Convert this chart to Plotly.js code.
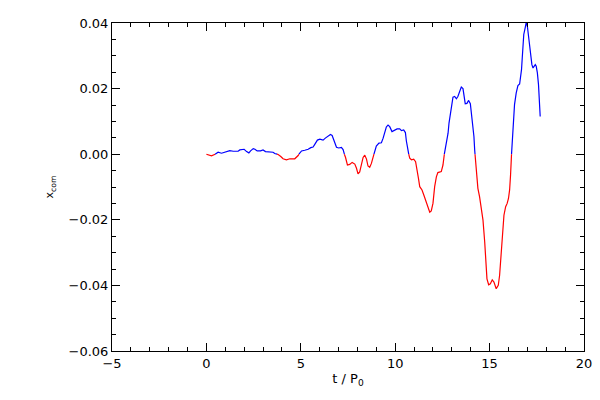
<!DOCTYPE html>
<html>
<head>
<meta charset="utf-8">
<script src="https://cdn.plot.ly/plotly-3.0.1.min.js"></script>
<style>html,body{margin:0;padding:0;background:#fff;}#chart{width:600px;height:400px;}</style>
</head>
<body>
<div id="chart"></div>
<script>
const tVals = [0, 0.27, 0.5, 0.62, 0.8, 0.98, 1.24, 1.42, 1.68, 1.77, 2.0, 2.13, 2.25, 2.34, 2.48, 2.57, 2.69, 2.87, 3.0, 3.13, 3.36, 3.53, 3.62, 3.8, 3.94, 4.06, 4.24, 4.42, 4.68, 4.77, 4.86, 4.95, 5.04, 5.21, 5.39, 5.53, 5.65, 5.74, 5.88, 6.01, 6.18, 6.3, 6.45, 6.57, 6.66, 6.73, 6.8, 6.89, 7.01, 7.15, 7.24, 7.29, 7.37, 7.47, 7.59, 7.72, 7.86, 7.95, 8.03, 8.12, 8.21, 8.3, 8.39, 8.48, 8.56, 8.65, 8.74, 8.83, 8.9, 9.0, 9.14, 9.27, 9.36, 9.44, 9.53, 9.62, 9.71, 9.83, 9.97, 10.1, 10.24, 10.33, 10.45, 10.54, 10.59, 10.68, 10.77, 10.86, 10.98, 11.08, 11.15, 11.23, 11.3, 11.42, 11.52, 11.65, 11.73, 11.83, 11.91, 12.0, 12.09, 12.18, 12.26, 12.44, 12.53, 12.58, 12.66, 12.74, 12.8, 12.85, 12.92, 12.98, 13.06, 13.15, 13.24, 13.32, 13.41, 13.5, 13.59, 13.64, 13.71, 13.8, 13.89, 13.98, 14.03, 14.12, 14.17, 14.21, 14.26, 14.3, 14.38, 14.47, 14.56, 14.65, 14.74, 14.79, 14.86, 14.95, 15.04, 15.14, 15.23, 15.35, 15.46, 15.53, 15.58, 15.63, 15.7, 15.76, 15.85, 15.93, 16.0, 16.06, 16.11, 16.16, 16.2, 16.27, 16.32, 16.41, 16.5, 16.59, 16.64, 16.69, 16.73, 16.76, 16.81, 16.89, 16.94, 17.0, 17.05, 17.12, 17.17, 17.24, 17.3, 17.35, 17.42, 17.47, 17.53, 17.59, 17.65, 17.68];

const xcomVals = [0.0, -0.0005, 0.0001, 0.0006, 0.0003, 0.0006, 0.0011, 0.0009, 0.0009, 0.0013, 0.0015, 0.0008, 0.0004, 0.001, 0.0017, 0.0015, 0.001, 0.001, 0.0013, 0.0008, 0.0006, 0.0006, 0.0002, -0.0001, -0.0007, -0.0014, -0.0017, -0.0014, -0.0014, -0.001, -0.0004, 0.0005, 0.001, 0.0012, 0.0015, 0.002, 0.0022, 0.003, 0.0043, 0.0046, 0.0043, 0.0049, 0.0054, 0.006, 0.0057, 0.0047, 0.0036, 0.0021, 0.0019, 0.0021, 0.0014, 0.0003, -0.001, -0.0033, -0.0031, -0.0025, -0.003, -0.0043, -0.006, -0.0054, -0.0033, -0.001, -0.0003, -0.0015, -0.0036, -0.004, -0.0028, -0.0009, 0.0005, 0.0025, 0.0034, 0.0035, 0.0049, 0.0064, 0.0083, 0.0089, 0.0084, 0.0069, 0.0072, 0.0077, 0.0077, 0.0072, 0.0074, 0.0066, 0.0041, 0.0008, -0.0012, -0.0017, -0.0015, -0.0023, -0.0053, -0.0073, -0.0099, -0.0109, -0.0125, -0.0145, -0.016, -0.0177, -0.0173, -0.015, -0.0099, -0.0069, -0.0056, -0.0053, -0.0033, -0.0007, 0.0018, 0.0039, 0.0064, 0.0095, 0.0125, 0.0151, 0.0174, 0.0176, 0.0169, 0.0176, 0.0192, 0.0205, 0.02, 0.0176, 0.0154, 0.0155, 0.0164, 0.0154, 0.013, 0.009, 0.0054, 0.0013, -0.0023, -0.0073, -0.0104, -0.013, -0.016, -0.0201, -0.0267, -0.0308, -0.038, -0.0398, -0.0395, -0.0383, -0.039, -0.041, -0.04, -0.0369, -0.0329, -0.0278, -0.0237, -0.0186, -0.016, -0.015, -0.0135, -0.0109, -0.0063, -0.0002, 0.0044, 0.0105, 0.0151, 0.0187, 0.0209, 0.0214, 0.0233, 0.0258, 0.0294, 0.0334, 0.0365, 0.0387, 0.0402, 0.039, 0.0365, 0.0329, 0.0299, 0.0273, 0.0263, 0.0266, 0.0273, 0.0268, 0.0248, 0.0212, 0.0156, 0.0115];

const xTickVals = [-5, 0, 5, 10, 15, 20];
const yTickVals = [-0.06, -0.04, -0.02, 0.00, 0.02, 0.04];

// split series into positive (blue) and negative (red) pieces, crossing at zero
const pos = {x: [], y: []}, neg = {x: [], y: []};
for (let i = 0; i < tVals.length - 1; i++) {
  const t0 = tVals[i], t1 = tVals[i + 1], v0 = xcomVals[i], v1 = xcomVals[i + 1];
  if ((v0 >= 0) === (v1 >= 0)) {
    const tgt = v0 >= 0 ? pos : neg, oth = v0 >= 0 ? neg : pos;
    tgt.x.push(t0, t1); tgt.y.push(v0, v1);
    oth.x.push(null); oth.y.push(null);
  } else {
    const tc = t0 + (t1 - t0) * (0 - v0) / (v1 - v0);
    const first = v0 >= 0 ? pos : neg, second = v0 >= 0 ? neg : pos;
    first.x.push(t0, tc, null); first.y.push(v0, 0, null);
    second.x.push(null, tc, t1); second.y.push(null, 0, v1);
  }
}

const traces = [
  {x: pos.x, y: pos.y, mode: 'lines', line: {color: '#0000ff', width: 1.2}, connectgaps: false, hoverinfo: 'skip'},
  {x: neg.x, y: neg.y, mode: 'lines', line: {color: '#ff0000', width: 1.2}, connectgaps: false, hoverinfo: 'skip'}
];

const font = {family: 'DejaVu Sans, sans-serif', size: 13, color: '#000'};

const layout = {
  width: 600, height: 400,
  margin: {l: 112, r: 16, t: 23, b: 49, pad: 0},
  paper_bgcolor: '#fff', plot_bgcolor: '#fff',
  showlegend: false,
  font: font,
  xaxis: {
    range: [-5, 20], tickvals: xTickVals, ticktext: xTickVals.map(v => v < 0 ? '\u2212' + Math.abs(v) : String(v)),
    ticks: 'inside', ticklen: 8, tickcolor: '#000', tickwidth: 1,
    minor: {dtick: 1, ticks: 'inside', ticklen: 4, tickcolor: '#000', tickwidth: 1, showgrid: false},
    showline: true, linecolor: '#000', linewidth: 1, mirror: 'ticks',
    showgrid: false, zeroline: false,
    tickfont: {family: 'DejaVu Sans, sans-serif', size: 13},
    title: {text: 't / P<sub>0</sub>', font: {family: 'DejaVu Sans, sans-serif', size: 13}, standoff: 4}
  },
  yaxis: {
    range: [-0.06, 0.04], tickvals: yTickVals, ticktext: yTickVals.map(v => (v < 0 ? '\u2212' : '') + Math.abs(v).toFixed(2)),
    ticks: 'inside', ticklen: 8, tickcolor: '#000', tickwidth: 1,
    minor: {dtick: 0.005, ticks: 'inside', ticklen: 4, tickcolor: '#000', tickwidth: 1, showgrid: false},
    showline: true, linecolor: '#000', linewidth: 1, mirror: 'ticks',
    showgrid: false, zeroline: false,
    tickfont: {family: 'DejaVu Sans, sans-serif', size: 13},
    title: {text: 'x<sub>com</sub>', font: {family: 'DejaVu Sans, sans-serif', size: 11}, standoff: 12}
  }
};

Plotly.newPlot('chart', traces, layout, {staticPlot: true, displayModeBar: false});
</script>
</body>
</html>
